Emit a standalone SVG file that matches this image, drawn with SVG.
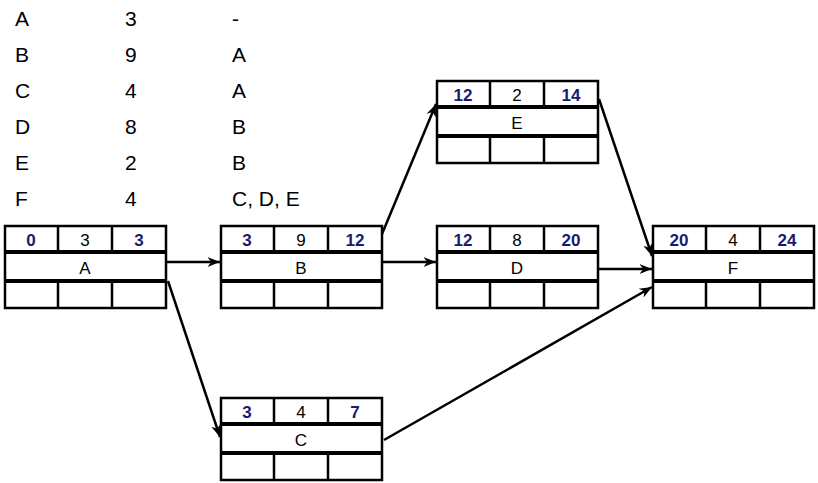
<svg xmlns="http://www.w3.org/2000/svg" width="818" height="483" viewBox="0 0 818 483">
<style>
.t{font-family:"Liberation Sans",Arial,sans-serif;font-size:21px;fill:#000}
.b{stroke:#000;stroke-width:2.5;fill:#fff}
.l{stroke:#000;stroke-width:2.5}
.h{stroke:#000;stroke-width:4}
.n{font-family:"Liberation Sans",Arial,sans-serif;font-size:17px;font-weight:bold;fill:#1a1a70;text-anchor:middle}
.m{font-family:"Liberation Sans",Arial,sans-serif;font-size:17px;fill:#000;text-anchor:middle}
.c{stroke:#000;stroke-width:2.5;fill:none;marker-end:url(#ar)}
</style>
<defs>
<marker id="ar" viewBox="0 0 10 10" refX="10" refY="5" markerWidth="5" markerHeight="5" orient="auto" markerUnits="strokeWidth"><path d="M0,1 L10,5 L0,9 L3,5 z" fill="#000"/></marker>
<g id="box">
<rect class="b" x="0" y="0" width="161" height="82"/>
<line class="h" x1="0" y1="26" x2="161" y2="26"/>
<line class="h" x1="0" y1="55" x2="161" y2="55"/>
<line class="l" x1="53" y1="0" x2="53" y2="26"/>
<line class="l" x1="107" y1="0" x2="107" y2="26"/>
<line class="l" x1="53" y1="55" x2="53" y2="82"/>
<line class="l" x1="107" y1="55" x2="107" y2="82"/>
</g>
</defs>
<g id="table" class="t">
<text x="15" y="26">A</text><text x="125" y="26">3</text><text x="232" y="26">-</text>
<text x="15" y="62">B</text><text x="125" y="62">9</text><text x="232" y="62">A</text>
<text x="15" y="98">C</text><text x="125" y="98">4</text><text x="232" y="98">A</text>
<text x="15" y="134">D</text><text x="125" y="134">8</text><text x="232" y="134">B</text>
<text x="15" y="170">E</text><text x="125" y="170">2</text><text x="232" y="170">B</text>
<text x="15" y="206">F</text><text x="125" y="206">4</text><text x="232" y="206">C, D, E</text>
</g>
<g id="connectors">
<line class="c" x1="166" y1="262" x2="220" y2="262"/>
<line class="c" x1="168" y1="281" x2="220" y2="437"/>
<line class="c" x1="382" y1="234" x2="436" y2="104"/>
<line class="c" x1="382" y1="262" x2="436" y2="262"/>
<line class="c" x1="599" y1="99" x2="652" y2="256"/>
<line class="c" x1="599" y1="269" x2="652" y2="269"/>
<line class="c" x1="384" y1="440" x2="652" y2="287"/>
</g>
<g id="nA" transform="translate(5,226)"><use href="#box"/><text class="n" x="26" y="20">0</text><text class="m" x="80" y="20">3</text><text class="n" x="134" y="20">3</text><text class="m" x="80" y="48">A</text></g>
<g id="nB" transform="translate(221,226)"><use href="#box"/><text class="n" x="26" y="20">3</text><text class="m" x="80" y="20">9</text><text class="n" x="134" y="20">12</text><text class="m" x="80" y="48">B</text></g>
<g id="nC" transform="translate(221,398)"><use href="#box"/><text class="n" x="26" y="20">3</text><text class="m" x="80" y="20">4</text><text class="n" x="134" y="20">7</text><text class="m" x="80" y="48">C</text></g>
<g id="nD" transform="translate(437,226)"><use href="#box"/><text class="n" x="26" y="20">12</text><text class="m" x="80" y="20">8</text><text class="n" x="134" y="20">20</text><text class="m" x="80" y="48">D</text></g>
<g id="nE" transform="translate(437,81)"><use href="#box"/><text class="n" x="26" y="20">12</text><text class="m" x="80" y="20">2</text><text class="n" x="134" y="20">14</text><text class="m" x="80" y="48">E</text></g>
<g id="nF" transform="translate(653,226)"><use href="#box"/><text class="n" x="26" y="20">20</text><text class="m" x="80" y="20">4</text><text class="n" x="134" y="20">24</text><text class="m" x="80" y="48">F</text></g>
</svg>
